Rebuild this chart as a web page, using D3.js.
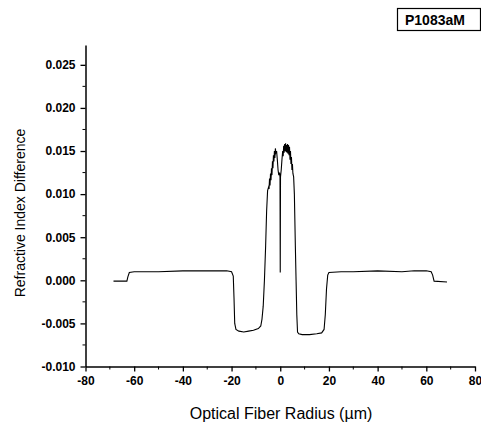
<!DOCTYPE html>
<html><head><meta charset="utf-8">
<script src="https://cdn.jsdelivr.net/npm/d3@7"></script>
<style>body{margin:0;background:#fff}</style>
</head><body>
<svg id="c" width="481" height="423"></svg>
<script>
const radius = [-68.5,-63.0,-62.6,-62.0,-60,-50,-40,-30,-22,-20.0,-19.3,-19.0,-18.7,-18.2,-17,-15,-13,-11,-9,-8.0,-7.5,-7.0,-6.5,-6.0,-5.6,-5.2,-4.8,-4.6,-4.4,-4.2,-4.0,-3.8,-3.6,-3.4,-3.2,-3.0,-2.8,-2.6,-2.4,-2.2,-2.0,-1.8,-1.5,-1.2,-0.9,-0.6,-0.3,-0.1,0.0,0.1,0.4,0.7,1.0,1.2,1.4,1.6,1.8,2.0,2.2,2.4,2.6,2.8,3.0,3.2,3.4,3.6,3.8,4.0,4.2,4.4,4.6,4.8,5.0,5.2,5.5,5.8,6.0,6.2,6.5,6.8,7.1,7.6,9,12,15,17,18,18.5,19,19.5,20,25,30,40,50,55,60,62,62.6,63.2,68.5];
const indexDiff = [-0.0001,-0.0001,0.0004,0.0009,0.0010,0.0010,0.0011,0.0011,0.0011,0.0010,0.0005,-0.0020,-0.0050,-0.0057,-0.0059,-0.0060,-0.0059,-0.0058,-0.0056,-0.0053,-0.0045,-0.0030,0.0000,0.0040,0.0080,0.0104,0.0108,0.0106,0.0118,0.0110,0.0124,0.0116,0.0130,0.0122,0.0138,0.0130,0.0145,0.0138,0.0150,0.0142,0.0153,0.0148,0.0150,0.0140,0.0128,0.0122,0.0125,0.0120,0.0009,0.0120,0.0128,0.0140,0.0150,0.0144,0.0156,0.0148,0.0158,0.0150,0.0159,0.0149,0.0157,0.0148,0.0158,0.0147,0.0157,0.0145,0.0155,0.0140,0.0150,0.0135,0.0143,0.0128,0.0135,0.0124,0.0120,0.0100,0.0070,0.0040,0.0000,-0.0040,-0.0060,-0.0062,-0.0063,-0.0063,-0.0062,-0.0061,-0.0057,-0.0040,-0.0010,0.0006,0.0009,0.0010,0.0010,0.0011,0.0010,0.0011,0.0011,0.0010,0.0006,-0.0001,-0.0002];
const xTicks = [-80,-60,-40,-20,0,20,40,60,80];
const yTicks = [-0.010,-0.005,0.000,0.005,0.010,0.015,0.020,0.025];
const sampleLabel = "P1083aM";

const svg = d3.select("#c");
const x = d3.scaleLinear().domain([-80,80]).range([85.5,475]);
const y = d3.scaleLinear().domain([-0.010,0.0273]).range([366.5,45]);
const font = "Arial, 'Liberation Sans', sans-serif";
const hy = f => v => f(v).replace("\u2212","-");

const xMinor = d3.range(-70,80,20);
const yMinor = d3.range(-0.0075,0.027,0.005);

const gx = svg.append("g").attr("transform",`translate(0,${y(-0.010)})`)
  .call(d3.axisBottom(x).tickValues(xTicks).tickFormat(hy(d3.format("d"))).tickSize(5).tickSizeOuter(0));
gx.append("g").selectAll("line").data(xMinor).join("line")
  .attr("x1",d=>x(d)).attr("x2",d=>x(d)).attr("y1",0).attr("y2",3).attr("stroke","#000");
const gy = svg.append("g").attr("transform",`translate(${x(-80)},0)`)
  .call(d3.axisLeft(y).tickValues(yTicks).tickFormat(hy(d3.format(".3f"))).tickSize(5).tickSizeOuter(0));
gy.append("g").selectAll("line").data(yMinor).join("line")
  .attr("y1",d=>y(d)).attr("y2",d=>y(d)).attr("x1",0).attr("x2",-3).attr("stroke","#000");
[gx,gy].forEach(g=>{
  g.select(".domain").attr("stroke","#000").attr("stroke-width",1.5);
  g.selectAll(".tick line").attr("stroke","#000").attr("stroke-width",1.3);
  g.selectAll("text").attr("font-family",font).attr("font-size",12).attr("font-weight","bold").attr("fill","#000");
});
gy.selectAll(".tick text").attr("x",-10);
gx.selectAll(".tick text").attr("y",10);

const pts = radius.map((r,i)=>[r,indexDiff[i]]);
svg.append("path").datum(pts)
  .attr("d",d3.line().x(d=>x(d[0])).y(d=>y(d[1])))
  .attr("fill","none").attr("stroke","#000").attr("stroke-width",1.1);

svg.append("text").attr("transform","translate(25,213) rotate(-90)")
  .attr("text-anchor","middle").attr("font-family",font).attr("font-size",14).text("Refractive Index Difference");
svg.append("text").attr("x",281).attr("y",419)
  .attr("text-anchor","middle").attr("font-family",font).attr("font-size",16).text("Optical Fiber Radius (µm)");

svg.append("rect").attr("x",397.5).attr("y",8.5).attr("width",83).attr("height",22)
  .attr("fill","#fff").attr("stroke","#000").attr("stroke-width",1.2);
svg.append("text").attr("x",405).attr("y",25).attr("font-family",font).attr("font-size",14)
  .attr("font-weight","bold").text(sampleLabel);
</script>
</body></html>
